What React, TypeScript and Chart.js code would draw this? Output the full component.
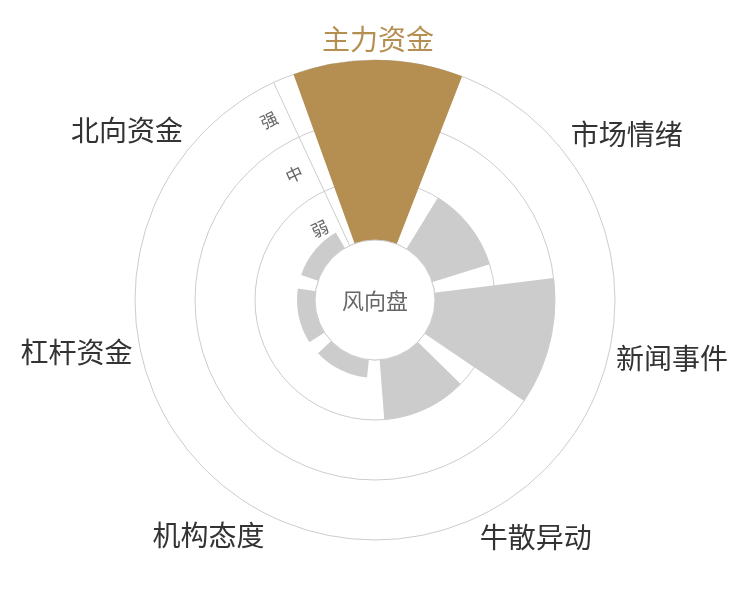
import { useEffect, useRef } from "react";
import { Chart, registerables } from "chart.js";

Chart.register(...registerables);

// categories clockwise from the top
const categories = ["主力资金", "市场情绪", "新闻事件", "牛散异动", "机构态度", "杠杆资金", "北向资金"];
// strength on a 0..3 scale (弱 / 中 / 强 bands)
const strength = [3, 1, 2, 1, 0.3, 0.3, 0.3];
const levelLabels = ["弱", "中", "强"];
const levelValues = [0.5, 1.5, 2.5];
const centerTitle = "风向盘";
const highlightIndex = 0;

const GOLD = "#b58f52";
const GREY = "#cccccc";
const LINE = "#cccccc";
const CJK = '"Noto Sans CJK SC", "Noto Sans", sans-serif';

const windVanePlugin = {
  id: "windVane",
  // leave a gap of 10% of the sector on each side of every bar
  afterDatasetsUpdate(chart: any) {
    const meta = chart.getDatasetMeta(0);
    meta.data.forEach((el: any) => {
      const gap = (el.endAngle - el.startAngle) * 0.1;
      el.startAngle += gap;
      el.endAngle -= gap;
    });
  },
  beforeDatasetsDraw(chart: any) {
    const r = chart.scales.r;
    const ctx = chart.ctx;
    const a = r.getIndexAngle(0);
    const d0 = r.getDistanceFromCenterForValue(0);
    const d1 = r.getDistanceFromCenterForValue(3);
    ctx.save();
    ctx.strokeStyle = LINE;
    ctx.lineWidth = 1;
    ctx.beginPath();
    ctx.moveTo(r.xCenter + Math.sin(a) * d0, r.yCenter - Math.cos(a) * d0);
    ctx.lineTo(r.xCenter + Math.sin(a) * d1, r.yCenter - Math.cos(a) * d1);
    ctx.stroke();
    ctx.restore();
  },
  afterDatasetsDraw(chart: any) {
    const r = chart.scales.r;
    const ctx = chart.ctx;
    const cx = r.xCenter;
    const cy = r.yCenter;
    const inner = r.getDistanceFromCenterForValue(0);

    ctx.save();
    // center disk
    ctx.beginPath();
    ctx.arc(cx, cy, inner, 0, Math.PI * 2);
    ctx.fillStyle = "#ffffff";
    ctx.fill();
    ctx.strokeStyle = LINE;
    ctx.lineWidth = 1;
    ctx.stroke();

    ctx.fillStyle = "#666666";
    ctx.font = `22px ${CJK}`;
    ctx.textAlign = "center";
    ctx.textBaseline = "middle";
    ctx.fillText(centerTitle, cx, cy + 1);

    // level labels along the radial axis
    const a = r.getIndexAngle(0);
    ctx.font = `17px ${CJK}`;
    levelLabels.forEach((lbl, i) => {
      const d = r.getDistanceFromCenterForValue(levelValues[i]) - 2;
      const x = cx + Math.sin(a) * d - Math.cos(a) * 20;
      const y = cy - Math.cos(a) * d - Math.sin(a) * 20;
      ctx.save();
      ctx.translate(x, y);
      ctx.rotate(a);
      ctx.fillText(lbl, 0, 0);
      ctx.restore();
    });

    // category labels
    const n = categories.length;
    const dist = r.getDistanceFromCenterForValue(3) + 8;
    ctx.font = `28px ${CJK}`;
    categories.forEach((lbl, i) => {
      const th = r.getIndexAngle(i) + Math.PI / n;
      const s = Math.sin(th);
      const c = Math.cos(th);
      const x = cx + s * dist;
      let y = cy - c * dist;
      if (c > 0.3) y -= 13;
      else if (c < -0.3) y += 13;
      ctx.textAlign = s > 0.05 ? "left" : s < -0.05 ? "right" : "center";
      ctx.fillStyle = i === highlightIndex ? GOLD : "#333333";
      ctx.fillText(lbl, x, y);
    });
    ctx.restore();
  },
};

export default function App() {
  const chartRef = useRef<HTMLCanvasElement | null>(null);
  const chartInstance = useRef<Chart | null>(null);

  useEffect(() => {
    if (!chartRef.current) return;
    const ctx = chartRef.current.getContext("2d");
    if (!ctx) return;
    if (chartInstance.current) chartInstance.current.destroy();

    chartInstance.current = new Chart(ctx, {
      type: "polarArea",
      data: {
        labels: categories,
        datasets: [
          {
            data: strength,
            backgroundColor: categories.map((_, i) => (i === highlightIndex ? GOLD : GREY)),
            borderWidth: 0,
          },
        ],
      },
      options: {
        responsive: false,
        animation: false,
        events: [],
        plugins: {
          legend: { display: false },
          tooltip: { enabled: false },
        },
        scales: {
          r: {
            min: -1,
            max: 4,
            startAngle: -25,
            ticks: { display: false, stepSize: 1 },
            grid: {
              circular: true,
              lineWidth: 1,
              color: (c: any) =>
                c.tick && (c.tick.value === 4 || c.tick.value === -1) ? "rgba(0,0,0,0)" : LINE,
            },
            angleLines: { display: false },
            pointLabels: { display: false },
          },
        },
      },
      plugins: [windVanePlugin],
    } as any);

    return () => {
      if (chartInstance.current) {
        chartInstance.current.destroy();
        chartInstance.current = null;
      }
    };
  }, []);

  return (
    <div style={{ position: "absolute", left: 0, top: 0, width: 750, height: 600, background: "#fff" }}>
      <canvas ref={chartRef} width={750} height={600} style={{ display: "block" }}></canvas>
    </div>
  );
}
